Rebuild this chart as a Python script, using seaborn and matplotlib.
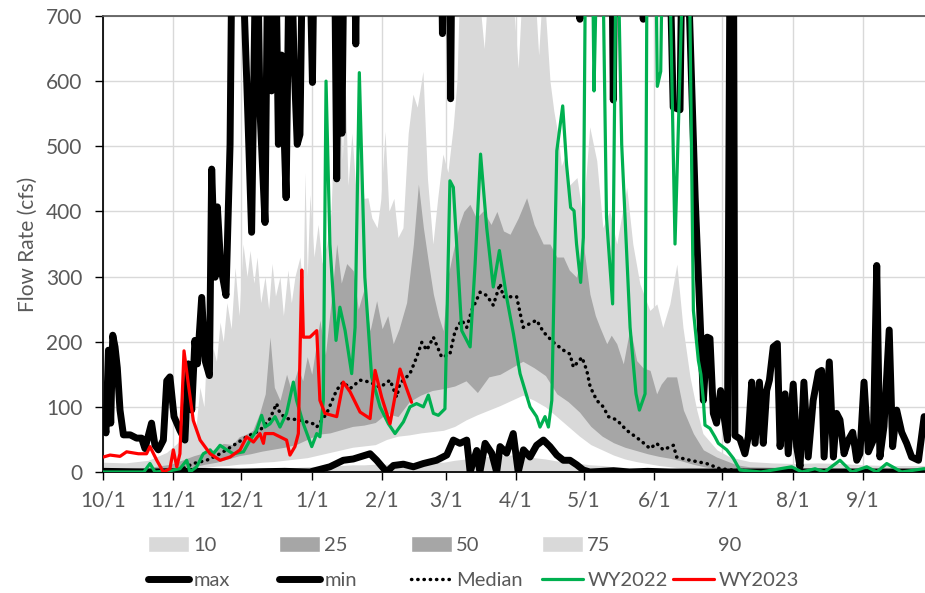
import numpy as np
import pandas as pd
import matplotlib
matplotlib.use("Agg")
import matplotlib.pyplot as plt
from matplotlib.patches import Patch
from matplotlib.lines import Line2D
import seaborn as sns

# ---------------- data (day of water year, flow in cfs) ----------------
month_days = [0, 31, 61, 92, 123, 151, 182, 212, 243, 273, 304, 335]
month_labels = ["10/1", "11/1", "12/1", "1/1", "2/1", "3/1", "4/1", "5/1", "6/1", "7/1", "8/1", "9/1"]

# lower bands on a 5-day grid
band_days = list(range(0, 361, 5)) + [364]
band_low_top = [1, 1, 1, 1, 1, 1, 1, 2, 3, 3, 4, 4, 5, 5, 6, 6, 7, 7, 8, 9, 10, 10, 11, 11, 12,
                12, 13, 13, 14, 15, 15, 18, 20, 22, 24, 25, 26, 25, 22, 20, 17, 15, 13, 11, 10,
                8, 7, 6, 5, 4, 3, 3, 2, 2, 1, 1, 1, 1, 1, 1, 1, 1, 1, 1, 1, 1, 1, 1, 1, 1, 1, 1, 1, 1]
band_white_top = [1, 1, 1, 1, 1, 1, 2, 3, 5, 7, 9, 10, 12, 13, 15, 16, 18, 20, 22, 26, 30, 34, 38, 40,
                  42, 50, 55, 57, 60, 62, 64, 70, 80, 88, 95, 102, 110, 118, 110, 100, 85, 70, 55, 42,
                  34, 26, 20, 16, 13, 10, 8, 6, 5, 3, 2, 1, 1, 1, 1, 1, 1, 1, 1, 1, 1, 1, 1, 1, 1, 1, 1, 1, 1, 1]
band_dark_low = [1, 1, 1, 1, 2, 2, 3, 5, 8, 12, 15, 20, 25, 28, 32, 35, 38, 42, 50, 58, 60, 65, 70, 72,
                 76, 90, 85, 108, 118, 125, 128, 132, 140, 122, 146, 150, 160, 170, 160, 148, 120, 108,
                 92, 70, 55, 45, 38, 33, 28, 24, 21, 17, 12, 8, 5, 3, 2, 1, 1, 1, 1, 1, 1, 1, 1, 1, 1, 1, 1, 1, 1, 1, 1, 1]

# top of the dark band
dark_days = [0, 10, 20, 30, 40, 45, 48.6, 53, 57, 60, 63, 66, 69, 71.5, 73.6, 75.5, 78, 80.9, 83, 86, 88,
             90, 92, 95.6, 98, 100.5, 103, 105, 107.4, 110.3, 112.5, 115, 117.7, 120.6, 123, 125.5,
             127.9, 130.5, 133.8, 136.8, 139, 141.2, 143.5, 145.6, 147.8, 149.9, 152, 154.4, 157, 159,
             161.7, 164.5, 167.6, 171, 173.6, 176.5, 179.4, 183, 186.7, 190, 194, 197, 200, 202.9, 205.5,
             208.7, 211.7, 214.6, 217, 219, 222, 224, 226.4, 229.3, 232.3, 235.2, 238, 241.1, 244, 246,
             248.5, 252.8, 255.8, 260.2, 264.6, 270.4, 279.3, 285, 300, 320, 340, 364]
dark_high = [6, 5, 7, 12, 25, 30, 34, 44, 42, 54, 58, 64, 90, 120, 207, 130, 110, 150, 125, 160, 140,
             177, 150, 233, 180, 260, 350, 290, 320, 309, 250, 280, 217, 263, 220, 240,
             197, 220, 260, 350, 442, 375, 320, 273, 240, 217, 300, 340, 380, 400,
             411, 390, 401, 380, 400, 370, 365, 390, 421, 380, 350, 350, 330, 330, 310,
             299, 350, 273, 240, 222, 197, 210, 197, 166, 222, 171, 160, 156, 120, 135,
             146, 146, 95, 59, 34, 23, 11, 8, 7, 6, 5, 5]

# top of the upper light band
light_days = [0, 10, 20, 28, 33, 38.3, 41, 42.7, 44.5, 45.8, 47, 48.5, 50, 51.6, 53, 54.6, 56.5, 58.2,
              60, 61.7, 63.5, 64.8, 66.5, 67.9, 69.5, 71.4, 73, 74.5, 76, 78, 79.5, 81.5, 83, 84.6, 86.8,
              88.2, 89, 90, 91.2, 93, 94.8, 96.5, 98.7, 100.5, 102.2, 103.5, 104.5, 105.5, 106.7, 108,
              109.7, 111.5, 113.3, 115, 116.8, 118.5, 120.8, 122.5, 124.3, 126, 128.2, 130, 132.2, 134.5,
              136.6, 138.5, 141, 143, 145.4, 147.5, 149.8, 152, 154.3, 156, 157.3, 165, 168, 170, 180,
              183, 185, 190, 192, 194, 197, 198.7, 200.5, 202, 203.9, 205.5, 208.9, 211.5, 214.5, 217.6,
              220.3, 223.3, 226.4, 230.8, 233.5, 236.6, 241, 244.1, 246.7, 249.8, 252.9, 255.6, 258.7,
              261.7, 264.4, 270.6, 276.3, 285, 295, 305, 315, 325, 335, 345, 355, 364]
light_high = [15, 14, 18, 30, 45, 90, 70, 130, 100, 200, 150, 190, 170, 230, 200, 260, 220, 314,
              240, 350, 300, 340, 290, 330, 260, 300, 250, 320, 270, 300, 240, 310, 260, 300, 330,
              280, 460, 300, 426, 330, 380, 320, 350, 400, 560, 450, 617, 480, 600, 440,
              520, 430, 500, 420, 421, 390, 375, 420, 523, 400, 420, 360, 375, 520,
              580, 560, 615, 450, 350, 420, 488, 460, 529, 600, 760, 760, 650, 760, 760,
              620, 760, 760, 640, 760, 600, 554, 518, 470, 488, 440, 452, 391, 530, 478,
              375, 401, 350, 437, 350, 289, 248, 258, 222, 258, 319, 222, 146,
              95, 59, 34, 23, 16, 14, 13, 14, 13, 11, 10, 10, 10]

max_days = [0.4, 1.3, 2.4, 3.4, 4.3, 5.3, 6.3, 7.5, 9, 12, 14.8, 17, 18.5, 21.4, 22.9, 24.4, 26.6, 28.1,
            29.5, 31.3, 33.9, 36.1, 37.6, 39.1, 40.5, 41.6, 43.5, 45, 46.9, 47.9, 49.4, 50.4, 51.9, 54.2,
            56, 57.1, 60.4, 63.3, 65.5, 67.7, 69.2, 71.4, 72.9, 74.3, 75.8, 77.3, 78.7, 80.7, 82.4, 84.2,
            85.6, 86.8, 88.3, 90.5, 92.3, 93.4, 101.8, 103, 104.3, 105.3, 106.5, 110.5, 111.4, 112.3,
            148.8, 149.6, 150.5, 152.4, 153.2, 154, 209.5, 210.2, 211, 224, 224.9, 225.8, 237.4, 238.1,
            238.8, 249.1, 251.3, 254.3, 255.5, 257.2, 258.5, 261, 263.1, 264.6, 266.3, 267.5, 269, 270.4,
            272.2, 273.7, 275.2, 276.5, 277.8, 278.5, 280.7, 282.9, 284.4, 285.9, 287.4, 289.3, 291,
            292.5, 293.7, 295.4, 297.2, 298.4, 300.6, 302, 304.2, 305.7, 307.2, 308.9, 310.8, 313, 315.3,
            316.7, 317.8, 320.1, 321.9, 323.3, 324.8, 326.6, 328.5, 330.4, 332.2, 333.6, 335.4, 337.3,
            339.5, 341, 342.4, 344.2, 346.5, 348, 349.8, 352, 354.2, 356.4, 359.4, 361.9, 364]
max_cfs = [85, 60, 187, 75, 210, 192, 160, 95, 57, 57, 52, 52, 36, 75, 41, 34, 49, 140,
           146, 85, 64, 49, 166, 95, 202, 166, 268, 171, 148, 465, 299, 407, 315, 271,
           503, 900, 900, 605, 368, 900, 554, 383, 900, 585, 900, 503, 640, 421, 900, 630,
           503, 518, 900, 900, 598, 900, 900, 450, 900, 520, 900, 900, 657, 900,
           900, 673, 900, 900, 573, 900, 900, 695, 900, 900, 571, 900, 900, 695,
           900, 900, 560, 556, 900, 800, 700, 420, 240, 110, 207, 205, 90, 75,
           125, 85, 49, 900, 900, 56, 51, 28, 54, 138, 44, 138, 44,
           125, 141, 192, 197, 39, 120, 28, 135, 39, 8, 138, 23, 110, 153,
           156, 23, 169, 23, 90, 80, 28, 49, 61, 18, 28, 138, 31,
           49, 317, 23, 70, 218, 39, 95, 61, 44, 23, 18, 85, 80]

min_days = [0, 20, 40, 60, 80, 91.2, 100, 105.9, 110.3, 117.7, 120.6, 125, 128, 132.4, 136.8, 141.2, 147,
            151.5, 154.4, 157.3, 160.3, 161.8, 164.7, 166.1, 168.4, 171.3, 173.5, 175, 177.9, 180.8, 183,
            185.3, 188.2, 191.1, 194.1, 197, 200, 202.9, 205.8, 208.8, 211.7, 214.6, 225, 232, 240, 250, 364]
min_cfs = [1, 0, 1, 0, 1, 0, 8, 18, 20, 28, 18, 0, 10, 12, 8, 13, 18,
           26, 49, 44, 49, 0, 33, 0, 44, 29, 0, 39, 29, 59, 0,
           34, 23, 41, 49, 39, 26, 18, 18, 11, 3, 0, 2, 0, 1, 0, 0]

med_days = [0, 20, 30, 35, 39.8, 45.7, 51.6, 58.9, 63.3, 69.2, 73.6, 76.5, 78, 80.9, 86.8, 92.7, 94.2,
            98.6, 103, 105.9, 108.9, 113.3, 117.7, 122.1, 126.5, 129.4, 130.9, 135.3, 138.2, 140.5,
            142.7, 145.6, 149.3, 152.9, 155.2, 158.1, 160.3, 162.5, 166.2, 169.1, 172, 175, 176.4,
            179.4, 182.3, 185.2, 188.2, 191.1, 194.1, 198.5, 202.9, 205.8, 207.3, 211.1, 213.2, 214.7,
            217.6, 220.5, 222.7, 226.4, 230.8, 236.7, 241.1, 244, 246.9, 251.4, 252.8, 258.7, 266,
            271.9, 277.8, 290, 364]
med_cfs = [1, 1, 2, 5, 13, 18, 28, 44, 54, 64, 82, 105, 90, 82, 80, 74, 69,
           90, 126, 138, 128, 141, 138, 130, 141, 115, 136, 151, 176, 199,
           187, 207, 176, 181, 217, 233, 222, 248, 276, 271, 256, 289, 269,
           269, 269, 222, 228, 233, 215, 199, 187, 181, 161, 176, 156, 131,
           110, 100, 85, 80, 64, 49, 36, 44, 34, 41, 23, 18, 13,
           5, 3, 1, 1]

wy22_days = [0, 18, 20.7, 22.9, 29.5, 33.9, 36.9, 38.3, 41.3, 44.2, 47.2, 48.6, 51.6, 54.5, 57.4, 61.9,
             64.8, 67.7, 69.9, 71.4, 73.6, 75.8, 78, 80.9, 83.9, 85.3, 88.3, 92, 94.2, 95.6, 97.1, 98.3,
             100, 102.7, 104.4, 106.7, 109.6, 111.1, 112.97, 115.4, 118.4, 122.1, 125.8, 128.7, 132.4,
             135.3, 138.2, 141.2, 143.4, 145.6, 147.8, 150.7, 152.9, 154.4, 158.1, 161.8, 164, 166.4,
             169.1, 172, 174.7, 177.9, 180.9, 183.8, 188.2, 191.1, 192.6, 194.8, 196.3, 197.8, 200,
             202.6, 204.3, 206.1, 207.6, 208.7, 210.5, 211.7, 212.9, 215.4, 216.4, 218.3, 219.8, 221.9,
             224.6, 226.4, 228.6, 232.3, 234.9, 236.4, 238.9, 239.9, 243.3, 244.3, 245.8, 246.9, 249.1,
             252.1, 254, 256.5, 258, 260.2, 262.4, 263.5, 264.6, 265.3, 267.5, 269.7, 271.2, 274.9,
             277.8, 280.7, 290, 303.5, 308, 313.8, 318, 324.8, 330, 336.6, 341, 345.4, 352, 361.6, 364]
wy22_cfs = [0, 0, 13, 0, 2, 5, 18, 0, 8, 28, 34, 28, 41, 34, 28, 31,
            49, 64, 87, 69, 74, 85, 69, 90, 138, 110, 74, 39, 59, 54, 110, 600,
            350, 202, 253, 217, 151, 222, 613, 299, 146, 100, 74, 59, 77,
            100, 105, 100, 118, 90, 87, 97, 447, 437, 217, 192, 319, 488,
            375, 284, 340, 268, 212, 151, 100, 85, 69, 85, 69, 110, 493,
            562, 472, 406, 401, 350, 291, 360, 900, 900, 585, 900, 900, 391,
            258, 900, 503, 222, 120, 95, 120, 900, 900, 592, 615, 900, 900,
            350, 580, 900, 900, 248, 171, 150, 110, 72, 67, 54, 44, 34,
            21, 3, 0, 8, 0, 5, 0, 18, 0, 8, 0, 13, 0, 5, 5]

wy23_days = [0.2, 3.1, 7.5, 10.4, 15.6, 19.2, 20.7, 23.7, 26.6, 29.5, 31, 32.5, 33.9, 35.7, 37.6, 39.8,
             42.8, 47.2, 51.6, 56, 60.4, 63.3, 66.3, 69.2, 70.7, 71.4, 75.1, 78, 80.9, 82.4, 84.6, 86.1,
             87.6, 88.3, 91.2, 94.2, 95.6, 97.8, 103, 105.9, 108.9, 113.3, 117.7, 119.9, 122.8, 126.5,
             130.9, 133.1, 136]
wy23_cfs = [23, 26, 24, 31, 28, 28, 39, 18, 0, 5, 34, 8, 28, 186, 135, 79,
            49, 28, 18, 23, 34, 54, 46, 59, 44, 59, 59, 54, 49, 26, 39, 59,
            310, 207, 207, 217, 110, 90, 85, 138, 123, 92, 82, 156, 115, 74,
            158, 135, 107]

legend_band_labels = ["10", "25", "50", "75", "90"]
legend_line_labels = ["max", "min", "Median", "WY2022", "WY2023"]

# ---------------- style ----------------
sns.set_theme(style="white")
plt.rcParams["font.family"] = ["Lato", "DejaVu Sans"]
LIGHT = "#d9d9d9"
DARK = "#a6a6a6"
GREEN = "#00b050"
RED = "#ff0000"
TXT = "#595959"
DOTS = (0, (0.1, 1.7))

fig = plt.figure(figsize=(9.25, 5.93), dpi=100)
ax = fig.add_axes([103 / 925, 1 - 472 / 593, 364 * 2.269 / 925, 456 / 593])

lower = pd.DataFrame({"day": band_days, "b1": band_low_top, "b2": band_white_top, "b3": band_dark_low})
ax.fill_between(light_days, 0, light_high, color=LIGHT, lw=0, zorder=1)
ax.fill_between(dark_days, 0, dark_high, color=DARK, lw=0, zorder=1.1)
ax.fill_between(lower["day"], 0, lower["b3"], color=LIGHT, lw=0, zorder=1.2)
ax.fill_between(lower["day"], lower["b1"], lower["b2"], color="white", lw=0, zorder=1.3)

for d, v, z in [(max_days, max_cfs, 3), (min_days, min_cfs, 3.1)]:
    sns.lineplot(x=d, y=v, ax=ax, color="black", lw=5.0, zorder=z, solid_joinstyle="round",
                 solid_capstyle="round", estimator=None, sort=False)
sns.lineplot(x=med_days, y=med_cfs, ax=ax, color="black", lw=2.5, zorder=4, estimator=None,
             sort=False, linestyle=DOTS, dash_capstyle="round")
sns.lineplot(x=wy22_days, y=wy22_cfs, ax=ax, color=GREEN, lw=2.3, zorder=5, estimator=None, sort=False)
sns.lineplot(x=wy23_days, y=wy23_cfs, ax=ax, color=RED, lw=2.3, zorder=6, estimator=None, sort=False)

ax.set_xlim(0, 364)
ax.set_ylim(0, 700)
ax.set_xticks(month_days)
ax.set_xticklabels(month_labels)
ax.set_yticks(range(0, 701, 100))
ax.grid(True, color="#d9d9d9", lw=1)
ax.set_axisbelow(True)
ax.tick_params(axis="both", labelsize=15, labelcolor=TXT, direction="out", length=6, width=1,
               color="black", bottom=True, left=True)
ax.tick_params(axis="x", pad=7)
ax.tick_params(axis="y", pad=9)
ax.spines["right"].set_visible(False)
ax.spines["top"].set_color("#595959")
ax.spines["left"].set_color("black")
ax.spines["bottom"].set_color("black")
ax.set_xlabel("")
ax.set_ylabel("Flow Rate (cfs)", fontsize=15, color=TXT)
ax.yaxis.set_label_coords(-0.079, 0.5)

# ---------------- legend (two rows of five) ----------------
band_handles = [Patch(facecolor=LIGHT), Patch(facecolor=DARK), Patch(facecolor=DARK),
                Patch(facecolor=LIGHT), Patch(facecolor="white")]
line_handles = [Line2D([], [], color="black", lw=5.0, solid_capstyle="round"),
                Line2D([], [], color="black", lw=5.0, solid_capstyle="round"),
                Line2D([], [], color="black", lw=2.5, linestyle=DOTS, dash_capstyle="round"),
                Line2D([], [], color=GREEN, lw=2.3),
                Line2D([], [], color=RED, lw=2.3)]
xs = [148, 279, 411, 542, 673]
for i in range(5):
    for handles, labels, yc in [(band_handles, legend_band_labels, 545), (line_handles, legend_line_labels, 580)]:
        fig.legend([handles[i]], [labels[i]], loc="center left",
                   bbox_to_anchor=(xs[i] / 925, 1 - yc / 593), frameon=False, borderpad=0,
                   borderaxespad=0, handlelength=2.05, handletextpad=0.2, handleheight=0.8,
                   fontsize=14.5, labelcolor=TXT)

fig.savefig("out.png", dpi=100)
